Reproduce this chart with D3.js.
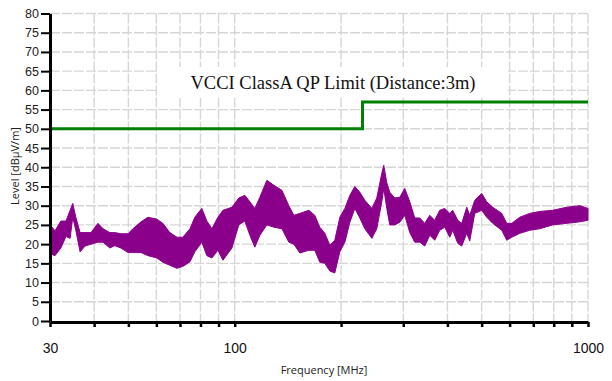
<!DOCTYPE html>
<html>
<head>
<meta charset="utf-8">
<script src="https://cdn.jsdelivr.net/npm/d3@7"></script>
<style>
  html, body { margin: 0; padding: 0; background: #fff; }
  svg { display: block; }
</style>
</head>
<body>
<svg id="chart" width="612" height="381"></svg>
<script>
// ---- data ----
const freqMHz = [30, 31.0, 32.2, 33.3, 34.2, 34.8, 35.5, 36.5, 37.7, 39.2, 41.0, 42.4, 44.3, 45.8, 47.6, 49.9,
  51.5, 54.3, 56.8, 60.2, 62.6, 65.5, 68.6, 71.3, 74.7, 77.1, 80.7, 83.4, 86.2, 89.6, 92.6, 98.2,
  102.7, 106.8, 110.4, 114.0, 117.8, 123.3, 129.1, 136.0, 142.3, 147.0, 152.9, 162.1, 168.5, 174.1, 179.9,
  185.9, 192.0, 198.4, 205.0, 211.8, 218.8, 226.0, 233.5, 244.4, 252.4, 260.8, 264.2, 269.4, 274.7, 283.9,
  293.3, 302.9, 313.0, 323.3, 334.0, 345.1, 356.5, 368.3, 380.5, 393.1, 406.1, 414.1, 427.9, 439.2, 453.7,
  462.7, 478.0, 500.3, 516.8, 537.5, 570.0, 588.9, 608.4, 640.9, 684.0, 729.9, 794.6, 870.4, 947.2, 1000];
const levelHigh = [25, 23.5, 26, 26, 28.8, 30.6, 27, 23, 23, 23, 25.4, 24, 23, 23, 22.7, 22.7,
  24, 25.8, 27, 26.5, 25.4, 23, 21.8, 21.8, 24, 27, 29.3, 26, 24, 27, 28.8, 29.6,
  32, 32.7, 31, 29.3, 32.2, 36.6, 35.3, 34, 30, 27.5, 28, 28.8, 27.5, 24.4, 22.8,
  19.7, 21, 27, 29.3, 32.7, 35, 33.5, 31.4, 29.3, 32, 38.4, 40.5, 36, 33.5, 32,
  32.2, 34.5, 31, 26.8, 26.8, 25.4, 27.5, 26.2, 28.8, 29.3, 28, 28.8, 26.2, 25.4, 29.6,
  27.5, 31.4, 33.2, 31, 29.6, 28, 25.4, 25.4, 27, 28, 28.5, 28.8, 29.6, 30, 29.3];
const levelLow = [17.5, 17, 19, 22, 21.5, 27, 23.6, 18, 19.5, 20, 20.5, 20.5, 19, 19.6, 19, 17.8,
  17.8, 17.8, 17, 16.4, 15.3, 14.5, 13.7, 14.2, 15.4, 18, 20.5, 17, 16.4, 18.4, 15.8, 19,
  25, 26, 22.3, 19.2, 22.3, 25, 24.4, 24, 20.5, 20, 17.7, 18.4, 18.4, 15.3, 15,
  13, 12.5, 18, 20.5, 25.7, 29.3, 26.8, 24, 21.5, 24, 31, 34.5, 29.3, 25, 25,
  25.7, 27.5, 23, 20.5, 20.5, 19.5, 22.3, 21, 23.6, 24.4, 21.8, 23.6, 20.2, 19.5, 22.8,
  20.8, 28, 28.8, 27, 25.4, 23.6, 21, 21.8, 22.8, 23.6, 24, 25, 25.4, 25.8, 26.2];
const limitFreq = [30, 230, 230, 1000];
const limitLevel = [50, 50, 57, 57];
const yTicks = [0, 5, 10, 15, 20, 25, 30, 35, 40, 45, 50, 55, 60, 65, 70, 75, 80];
const xTicks = [30, 40, 50, 60, 70, 80, 90, 100, 200, 300, 400, 500, 600, 700, 800, 900, 1000];
const xTickLabels = [30, 100, 1000];
const limitTitle = "VCCI ClassA QP Limit (Distance:3m)";
const xTitle = "Frequency [MHz]";
const yTitle = "Level [dBμV/m]";

// ---- layout ----
const svg = d3.select("#chart");
const pL = 50, pR = 588, pT = 13.5, pB = 321;
const x = d3.scaleLog().domain([30, 1000]).range([pL, pR]);
const y = d3.scaleLinear().domain([0, 80]).range([pB, pT]);

// grid
const grid = svg.append("g").attr("stroke", "#d6d6d6").attr("stroke-width", 1.4).attr("stroke-dasharray", "10,2");
grid.selectAll("line.h").data(yTicks.filter(d => d > 0)).enter().append("line")
  .attr("x1", pL).attr("x2", pR).attr("y1", d => y(d)).attr("y2", d => y(d));
grid.selectAll("line.v").data(xTicks.filter(d => d > 30)).enter().append("line")
  .attr("x1", d => x(d)).attr("x2", d => x(d)).attr("y1", pT).attr("y2", pB);

// emission trace (envelope of the measured sweep)
const trace = freqMHz.map((f, i) => ({ f, hi: levelHigh[i], lo: levelLow[i] }));
svg.append("path").datum(trace)
  .attr("fill", "#8b008b").attr("stroke", "#8b008b").attr("stroke-width", 1).attr("stroke-linejoin", "bevel")
  .attr("d", d3.area().x(d => x(d.f)).y0(d => y(d.lo)).y1(d => y(d.hi)));

// limit line
const limit = limitFreq.map((f, i) => ({ f, v: limitLevel[i] }));
svg.append("path").datum(limit)
  .attr("fill", "none").attr("stroke", "#008000").attr("stroke-width", 3)
  .attr("d", d3.line().x(d => x(d.f)).y(d => y(d.v)));

// limit title box
svg.append("rect").attr("x", 157).attr("y", 67).attr("width", 351).attr("height", 31).attr("fill", "#fff");
svg.append("text").attr("x", 333).attr("y", 89).attr("text-anchor", "middle")
  .attr("font-family", "'Liberation Serif', 'Times New Roman', serif").attr("font-size", 18.5)
  .attr("fill", "#111").text(limitTitle);

// axes
const yAxis = svg.append("g").attr("transform", `translate(${pL},0)`)
  .call(d3.axisLeft(y).tickValues(yTicks).tickSize(9).tickSizeOuter(0).tickPadding(2));
yAxis.select(".domain").attr("stroke", "#000").attr("stroke-width", 3);
yAxis.selectAll(".tick line").attr("stroke", "#000").attr("stroke-width", 2);
yAxis.selectAll("text").attr("font-family", "'Liberation Sans', Arial, sans-serif").attr("font-size", 12.5).attr("fill", "#222");

const xAxis = svg.append("g").attr("transform", `translate(0,${pB + 1})`)
  .call(d3.axisBottom(x).tickValues(xTicks).tickSize(5).tickSizeOuter(0)
    .tickFormat(d => xTickLabels.includes(d) ? String(d) : ""));
xAxis.select(".domain").attr("stroke", "#000").attr("stroke-width", 3);
xAxis.selectAll(".tick line").attr("stroke", "#000").attr("stroke-width", 2.5);
xAxis.selectAll("text").attr("y", 31).attr("dy", null)
  .attr("font-family", "'Liberation Sans', Arial, sans-serif").attr("font-size", 14).attr("fill", "#111");

// axis titles
svg.append("text").attr("x", 324).attr("y", 374).attr("text-anchor", "middle")
  .attr("font-family", "'Open Sans', 'Noto Sans', sans-serif").attr("font-size", 11).attr("fill", "#222").text(xTitle);
svg.append("text").attr("transform", "translate(19,166) rotate(-90)").attr("text-anchor", "middle")
  .attr("font-family", "'Open Sans', 'Noto Sans', sans-serif").attr("font-size", 11).attr("fill", "#222").text(yTitle);
</script>
</body>
</html>
